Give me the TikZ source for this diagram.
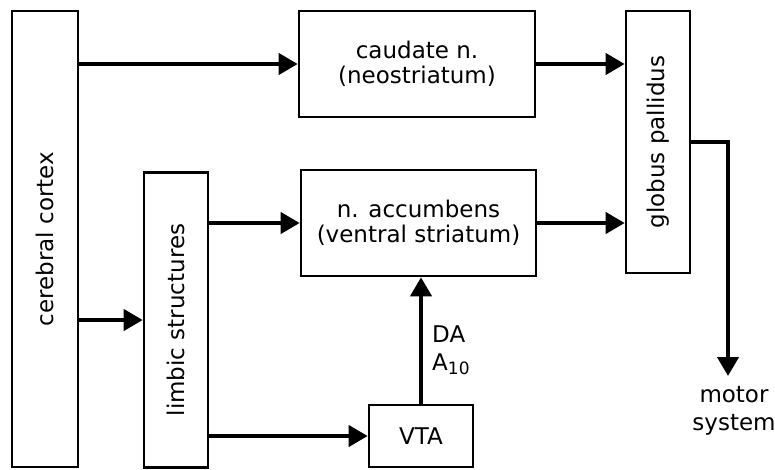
\documentclass[tikz,border=0pt]{standalone}
\usepackage{fontspec}
\setmainfont{DejaVu Sans}
\usetikzlibrary{arrows.meta}
\begin{document}
\begin{tikzpicture}[x=1pt,y=-1pt,
  blk/.style={draw,line width=2.6pt,inner sep=0pt,align=center,
    font=\fontsize{23}{25}\selectfont},
  conn/.style={line width=4pt,-{Triangle[length=19pt,width=21pt]}},
  lbl/.style={font=\fontsize{23}{28}\selectfont,inner sep=0pt}]
\useasboundingbox (0,0) rectangle (775,469);

% boxes
\node[blk,minimum width=66pt,minimum height=456pt] (cortex) at (45,239)
  {\rotatebox{90}{cerebral cortex}};
\node[blk,minimum width=236pt,minimum height=106pt] (caudate) at (417,64)
  {caudate n.\\(neostriatum)};
\node[blk,minimum width=235pt,minimum height=106pt] (accumbens) at (418.5,223)
  {n. accumbens\\(ventral striatum)};
\node[blk,minimum width=64pt,minimum height=262pt] (globus) at (658,142)
  {\rotatebox{90}{globus pallidus}};
\node[blk,minimum width=64pt,minimum height=295pt] (limbic) at (176,320)
  {\rotatebox{90}{limbic structures}};
\node[blk,minimum width=104pt,minimum height=62pt] (vta) at (421,436)
  {VTA};

% connectors
\draw[conn] (caudate.west -| cortex.east) -- (caudate.west);
\draw[conn] (limbic.west -| cortex.east) -- (limbic.west);
\draw[conn] (accumbens.west -| limbic.east) -- (accumbens.west);
\draw[conn] (caudate.east) -- (caudate.east -| globus.west);
\draw[conn] (accumbens.east) -- (accumbens.east -| globus.west);
\draw[conn] (vta.west -| limbic.east) -- (vta.west);
\draw[conn] (vta.north) -- (vta.north |- accumbens.south);

\coordinate (motortip) at (728,376);
\draw[conn] (globus.east) -| (motortip);

% labels
\node[lbl,anchor=north,align=center] (motor) at (734,386) {motor\\system};
\node[lbl,anchor=west,align=left] (da) at (432,350)
  {DA\\A\raisebox{-0.35ex}{\fontsize{17}{17}\selectfont 10}};
\end{tikzpicture}
\end{document}
